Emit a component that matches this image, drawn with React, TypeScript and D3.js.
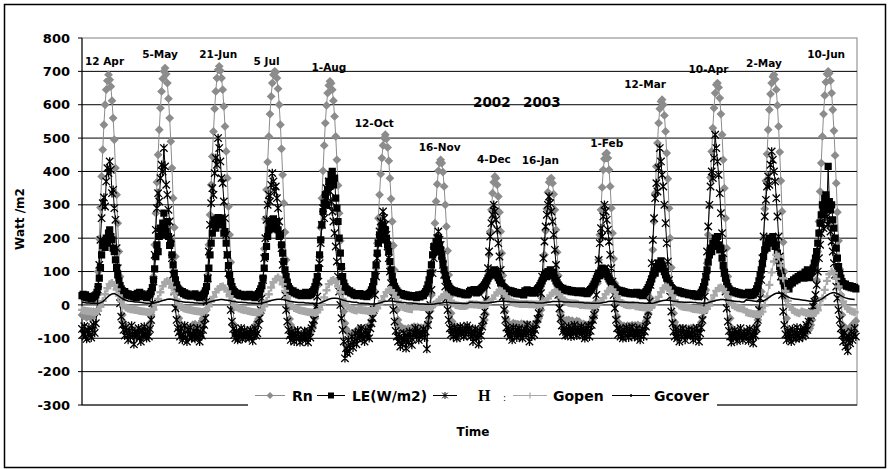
import React from 'react';
import * as d3 from 'd3';

// Day labels shown above each diurnal cycle (one day of half-hourly data each)
const dayLabels = ['12 Apr', '5-May', '21-Jun', '5 Jul', '1-Aug', '12-Oct', '16-Nov', '4-Dec', '16-Jan', '1-Feb', '12-Mar', '10-Apr', '2-May', '10-Jun'];
const yearLabels = ['2002', '2003'];
const yTicks = [800, 700, 600, 500, 400, 300, 200, 100, 0, -100, -200, -300];

// Net radiation Rn (W/m2), half-hourly, one row per day
const rn: number[][] = [
  [-30, -33, -29, -35, -38, -34, -31, -36, -40, -37, -33, -28, -22, 8, 100, 198, 292, 385, 465, 540, 600, 645, 672, 690, 675, 655, 612, 560, 495, 410, 330, 245, 160, 85, 20, -30, -52, -60, -66, -70, -74, -78, -72, -80, -84, -79, -76, -82],
  [-78, -82, -75, -85, -80, -88, -84, -79, -86, -81, -70, -55, -30, 0, 85, 180, 275, 368, 450, 525, 590, 640, 678, 700, 710, 692, 665, 618, 560, 490, 410, 320, 232, 145, 62, -5, -40, -55, -62, -66, -70, -68, -74, -72, -76, -80, -78, -83],
  [-60, -65, -58, -70, -72, -66, -62, -55, -48, -40, -30, -18, 10, 90, 180, 270, 360, 445, 520, 588, 640, 680, 705, 715, 702, 680, 645, 595, 535, 460, 380, 295, 210, 128, 52, -10, -60, -85, -95, -98, -92, -88, -85, -90, -86, -82, -84, -80],
  [-80, -84, -78, -82, -76, -70, -65, -58, -50, -42, -30, -15, 5, 80, 168, 258, 345, 428, 505, 572, 625, 665, 690, 700, 698, 680, 648, 600, 540, 468, 390, 305, 218, 135, 58, -8, -42, -60, -72, -78, -85, -90, -88, -94, -97, -92, -95, -90],
  [-85, -90, -82, -88, -92, -86, -80, -74, -66, -55, -40, -22, -5, 60, 145, 232, 320, 402, 478, 545, 598, 635, 658, 670, 664, 645, 612, 565, 505, 435, 358, 275, 192, 110, 38, -20, -55, -72, -80, -84, -88, -92, -86, -90, -84, -80, -78, -74],
  [-72, -76, -70, -74, -78, -72, -68, -74, -70, -66, -58, -45, -30, -10, 40, 110, 185, 260, 330, 392, 440, 478, 500, 510, 498, 472, 432, 380, 318, 250, 178, 105, 38, -15, -45, -60, -68, -72, -70, -75, -72, -78, -74, -70, -76, -72, -68, -74],
  [-65, -68, -70, -66, -72, -70, -68, -74, -70, -72, -66, -60, -52, -40, -18, 30, 100, 172, 245, 310, 362, 402, 426, 435, 425, 398, 355, 300, 235, 162, 90, 25, -25, -50, -62, -68, -70, -72, -70, -74, -72, -70, -75, -73, -71, -74, -72, -70],
  [-74, -76, -75, -77, -74, -76, -78, -75, -72, -74, -70, -64, -56, -45, -28, 15, 80, 150, 220, 285, 335, 368, 385, 380, 360, 325, 278, 220, 155, 88, 25, -20, -42, -52, -58, -60, -62, -58, -55, -60, -57, -62, -58, -64, -60, -56, -62, -58],
  [-60, -62, -58, -64, -60, -63, -66, -62, -60, -58, -54, -48, -40, -30, -15, 20, 82, 150, 222, 288, 338, 368, 378, 380, 365, 332, 285, 225, 158, 88, 22, -22, -40, -48, -52, -50, -46, -50, -45, -48, -52, -47, -50, -55, -52, -48, -54, -50],
  [-55, -58, -60, -57, -62, -60, -64, -61, -58, -55, -50, -42, -32, -18, 10, 65, 135, 210, 285, 352, 405, 438, 452, 455, 440, 405, 355, 290, 215, 138, 65, 5, -35, -52, -60, -64, -62, -66, -63, -68, -65, -62, -67, -64, -66, -61, -65, -62],
  [-62, -65, -60, -66, -64, -68, -63, -60, -55, -48, -38, -25, -10, 20, 85, 165, 250, 335, 415, 485, 545, 588, 610, 615, 600, 568, 520, 455, 378, 290, 200, 112, 35, -25, -52, -65, -70, -72, -74, -70, -76, -72, -75, -78, -73, -76, -71, -74],
  [-70, -74, -68, -72, -76, -70, -73, -69, -62, -52, -38, -20, 0, 45, 125, 210, 298, 382, 460, 530, 590, 635, 660, 665, 652, 620, 572, 510, 435, 350, 260, 170, 85, 12, -40, -68, -80, -85, -88, -92, -86, -95, -90, -98, -93, -88, -96, -91],
  [-80, -84, -78, -86, -82, -88, -85, -80, -72, -60, -45, -25, -5, 40, 115, 200, 288, 372, 452, 525, 585, 632, 665, 684, 690, 676, 645, 598, 535, 458, 372, 280, 188, 100, 22, -40, -75, -92, -98, -102, -96, -100, -95, -98, -92, -96, -90, -94],
  [-90, -86, -92, -88, -84, -80, -76, -70, -60, -45, -28, -8, 15, 75, 160, 250, 340, 425, 505, 572, 628, 668, 692, 700, 694, 672, 635, 585, 522, 448, 365, 278, 192, 108, 30, -30, -62, -78, -85, -80, -76, -72, -68, -64, -60, -56, -52, -48],
];

// Latent heat flux LE (W/m2), half-hourly
const le: number[][] = [
  [28, 32, 25, 30, 22, 26, 20, 24, 18, 21, 25, 27, 30, 38, 55, 80, 112, 150, 178, 190, 172, 200, 185, 215, 225, 205, 195, 170, 160, 135, 112, 90, 72, 58, 48, 42, 38, 40, 35, 30, 33, 28, 31, 26, 29, 24, 27, 22],
  [35, 30, 38, 28, 33, 25, 30, 27, 22, 26, 30, 34, 40, 52, 75, 108, 145, 180, 160, 205, 230, 210, 245, 275, 240, 220, 250, 205, 178, 185, 150, 120, 95, 75, 60, 50, 45, 42, 38, 40, 34, 36, 30, 33, 28, 30, 26, 28],
  [30, 26, 33, 28, 24, 29, 22, 27, 25, 30, 35, 42, 55, 78, 110, 150, 185, 215, 240, 255, 230, 258, 262, 250, 255, 260, 240, 215, 220, 185, 150, 118, 90, 70, 55, 45, 40, 36, 32, 35, 30, 28, 32, 27, 30, 25, 28, 24],
  [28, 32, 26, 30, 24, 28, 22, 26, 30, 34, 40, 48, 58, 80, 110, 145, 175, 205, 225, 240, 250, 228, 258, 245, 235, 250, 225, 205, 210, 180, 155, 130, 105, 85, 68, 55, 48, 44, 40, 42, 36, 38, 33, 35, 30, 32, 28, 30],
  [35, 30, 38, 33, 28, 36, 30, 34, 40, 45, 55, 68, 85, 110, 150, 195, 240, 280, 305, 330, 300, 345, 370, 355, 390, 400, 360, 380, 320, 290, 250, 200, 155, 115, 85, 65, 55, 48, 45, 40, 42, 36, 38, 34, 30, 33, 28, 31],
  [30, 34, 28, 32, 26, 30, 28, 25, 30, 34, 38, 45, 55, 70, 90, 120, 155, 185, 210, 195, 230, 240, 215, 225, 200, 180, 160, 130, 105, 85, 68, 56, 48, 42, 38, 35, 32, 34, 30, 32, 28, 30, 26, 29, 25, 28, 24, 27],
  [25, 28, 22, 26, 30, 24, 27, 32, 28, 35, 40, 48, 60, 75, 95, 120, 150, 175, 160, 190, 175, 200, 180, 165, 145, 125, 105, 88, 75, 64, 56, 50, 46, 44, 40, 42, 38, 40, 36, 38, 34, 36, 33, 35, 31, 34, 30, 33],
  [40, 44, 38, 42, 46, 40, 36, 42, 38, 44, 48, 52, 56, 60, 66, 72, 80, 86, 92, 98, 90, 105, 95, 100, 88, 82, 74, 66, 60, 55, 52, 48, 45, 42, 44, 40, 42, 38, 40, 36, 38, 34, 37, 33, 36, 32, 34, 30],
  [42, 38, 45, 40, 36, 43, 39, 35, 41, 37, 44, 48, 52, 58, 64, 72, 80, 88, 95, 85, 100, 92, 105, 95, 88, 98, 80, 72, 66, 60, 56, 52, 48, 50, 45, 47, 43, 46, 42, 44, 40, 43, 39, 42, 38, 41, 37, 40],
  [38, 42, 36, 40, 35, 39, 34, 38, 42, 46, 50, 56, 62, 70, 78, 86, 95, 88, 102, 110, 96, 108, 100, 92, 85, 78, 72, 66, 60, 56, 52, 48, 45, 42, 44, 40, 42, 38, 40, 36, 38, 35, 37, 34, 36, 33, 35, 32],
  [35, 38, 32, 36, 30, 34, 28, 32, 36, 40, 46, 52, 60, 68, 78, 90, 102, 95, 115, 108, 125, 118, 132, 120, 110, 100, 90, 80, 72, 64, 58, 52, 48, 45, 42, 44, 40, 42, 38, 40, 36, 38, 34, 36, 33, 35, 31, 33],
  [30, 34, 28, 32, 26, 30, 25, 29, 33, 38, 45, 55, 68, 85, 105, 128, 150, 170, 160, 185, 175, 200, 190, 205, 180, 165, 170, 140, 118, 98, 80, 66, 55, 48, 44, 40, 42, 38, 40, 36, 38, 34, 36, 32, 35, 31, 33, 30],
  [35, 30, 38, 32, 28, 34, 30, 36, 40, 48, 58, 72, 88, 105, 125, 145, 165, 180, 170, 190, 200, 185, 195, 205, 190, 175, 180, 155, 135, 115, 98, 84, 72, 64, 58, 54, 50, 48, 62, 70, 66, 75, 72, 80, 76, 85, 82, 88],
  [85, 92, 80, 98, 88, 105, 90, 82, 95, 100, 110, 125, 140, 160, 185, 215, 245, 270, 300, 285, 320, 330, 300, 415, 310, 285, 300, 255, 230, 200, 170, 140, 115, 95, 80, 70, 64, 60, 62, 56, 58, 54, 57, 52, 55, 50, 53, 48],
];

// Sensible heat flux H (W/m2), half-hourly
const hf: number[][] = [
  [-72, -88, -64, -95, -102, -80, -68, -90, -98, -75, -60, -84, -55, -20, 45, 120, 195, 260, 305, 322, 295, 370, 410, 395, 430, 405, 335, 345, 290, 255, 170, 110, 55, 5, -35, -60, -75, -92, -68, -85, -105, -78, -96, -62, -88, -118, -80, -93],
  [-85, -70, -98, -110, -76, -92, -65, -88, -100, -80, -95, -72, -45, 5, 70, 150, 225, 290, 335, 310, 380, 420, 400, 470, 415, 360, 330, 285, 250, 200, 140, 90, 40, -10, -45, -70, -82, -95, -70, -105, -88, -62, -98, -110, -75, -90, -68, -100],
  [-95, -78, -102, -88, -70, -96, -110, -84, -92, -75, -60, -40, 10, 80, 160, 240, 305, 350, 330, 395, 440, 420, 500, 470, 430, 380, 365, 310, 260, 210, 150, 95, 40, -15, -50, -72, -90, -100, -78, -105, -85, -96, -70, -102, -88, -76, -98, -84],
  [-88, -100, -75, -95, -108, -82, -70, -92, -85, -60, -40, -15, 20, 75, 140, 200, 255, 300, 330, 310, 360, 395, 370, 340, 355, 320, 290, 250, 215, 170, 120, 75, 30, -15, -50, -75, -92, -105, -80, -98, -110, -85, -102, -76, -95, -112, -88, -100],
  [-95, -78, -105, -88, -112, -80, -98, -70, -60, -45, -25, -5, 25, 70, 125, 185, 240, 290, 260, 320, 350, 300, 370, 340, 310, 280, 250, 215, 175, 130, 85, 40, 0, -40, -75, -110, -160, -130, -145, -105, -138, -120, -95, -128, -110, -85, -118, -100],
  [-80, -95, -70, -102, -88, -110, -76, -92, -84, -100, -70, -55, -40, -15, 30, 85, 140, 185, 220, 250, 235, 280, 260, 240, 210, 175, 140, 100, 65, 25, -15, -50, -78, -95, -110, -88, -125, -100, -118, -85, -105, -130, -92, -112, -80, -98, -120, -90],
  [-85, -70, -95, -78, -105, -82, -88, -90, -72, -98, -80, -132, -60, -30, 0, 45, 95, 140, 175, 160, 200, 220, 195, 180, 150, 120, 90, 55, 20, -15, -45, -70, -88, -75, -95, -68, -82, -100, -72, -90, -65, -85, -78, -95, -70, -88, -62, -80],
  [-70, -95, -80, -110, -88, -72, -100, -85, -118, -78, -92, -65, -45, -20, 15, 60, 110, 160, 205, 245, 270, 300, 280, 255, 225, 185, 145, 105, 65, 25, -15, -45, -68, -85, -72, -95, -80, -105, -68, -90, -75, -98, -82, -70, -92, -78, -100, -85],
  [-72, -90, -60, -85, -110, -78, -95, -68, -88, -75, -58, -42, -25, 0, 35, 85, 140, 190, 235, 270, 300, 325, 305, 280, 250, 210, 165, 120, 75, 30, -10, -40, -62, -80, -70, -92, -75, -88, -65, -82, -95, -70, -86, -60, -78, -92, -68, -84],
  [-80, -65, -92, -75, -100, -70, -88, -62, -95, -78, -60, -45, -30, -5, 30, 80, 135, 185, 230, 205, 265, 300, 280, 255, 225, 190, 150, 110, 70, 30, -10, -45, -70, -88, -72, -95, -80, -100, -75, -92, -68, -85, -98, -72, -90, -66, -84, -95],
  [-85, -70, -98, -78, -105, -88, -72, -95, -80, -65, -45, -20, 10, 60, 125, 195, 260, 320, 365, 340, 410, 470, 430, 390, 355, 300, 245, 185, 130, 75, 25, -20, -55, -80, -95, -72, -100, -85, -110, -78, -96, -70, -88, -105, -82, -94, -75, -90],
  [-90, -75, -105, -82, -98, -70, -92, -110, -85, -68, -45, -15, 25, 85, 160, 235, 300, 355, 400, 380, 440, 510, 470, 430, 390, 335, 275, 215, 155, 95, 40, -10, -50, -78, -95, -112, -85, -100, -76, -95, -108, -82, -98, -70, -90, -105, -80, -94],
  [-95, -80, -108, -72, -100, -88, -115, -78, -92, -70, -45, -15, 20, 75, 140, 205, 265, 315, 355, 385, 360, 420, 460, 435, 400, 370, 320, 265, 205, 145, 85, 30, -20, -60, -88, -105, -78, -98, -85, -110, -72, -95, -82, -102, -68, -90, -100, -76],
  [-80, -95, -70, -88, -60, -75, -50, -40, -30, -20, -5, 10, 30, 60, 100, 140, 180, 215, 245, 230, 270, 290, 265, 240, 255, 220, 190, 160, 125, 90, 55, 20, -15, -45, -70, -90, -110, -85, -125, -100, -138, -95, -115, -80, -105, -90, -70, -95],
];

// Soil heat flux, open ground (W/m2), hourly
const gOpen: number[][] = [
  [-15, -17, -18, -19, -20, -21, -21, -18, -6, 12, 32, 50, 62, 66, 60, 46, 28, 10, -2, -8, -11, -13, -14, -15],
  [-16, -18, -19, -20, -21, -22, -20, -14, 0, 18, 38, 56, 68, 72, 66, 52, 34, 16, 2, -6, -10, -12, -14, -15],
  [-17, -18, -19, -20, -21, -20, -15, -4, 10, 24, 38, 48, 54, 55, 50, 40, 26, 12, 0, -7, -11, -13, -15, -16],
  [-18, -20, -21, -22, -23, -22, -16, -4, 12, 32, 52, 68, 78, 82, 76, 62, 42, 22, 6, -4, -9, -12, -15, -17],
  [-18, -20, -21, -22, -23, -24, -22, -14, 2, 22, 44, 62, 72, 75, 70, 56, 38, 18, 4, -5, -10, -13, -15, -17],
  [-14, -15, -16, -17, -18, -18, -18, -17, -10, 0, 12, 26, 38, 45, 44, 36, 24, 10, 0, -6, -9, -11, -12, -13],
  [-4, -5, -5, -6, -6, -7, -7, -6, -3, 2, 8, 16, 24, 30, 28, 22, 12, 4, 0, -2, -3, -3, -3, -2],
  [2, 2, 1, 1, 0, 0, 0, 1, 4, 10, 18, 28, 37, 43, 41, 34, 25, 16, 10, 7, 5, 4, 3, 3],
  [3, 3, 2, 2, 1, 1, 1, 2, 5, 11, 19, 28, 36, 40, 38, 31, 22, 14, 9, 6, 5, 4, 4, 3],
  [0, 0, -1, -1, -2, -2, -2, -1, 3, 10, 20, 32, 42, 48, 46, 38, 26, 14, 6, 2, 0, -1, -1, 0],
  [-4, -5, -6, -7, -8, -8, -8, -6, 0, 10, 24, 38, 50, 55, 52, 42, 28, 14, 4, -2, -5, -6, -7, -8],
  [-10, -12, -13, -14, -15, -16, -16, -12, -2, 12, 28, 42, 50, 52, 48, 38, 24, 10, 0, -5, -8, -10, -11, -12],
  [-22, -24, -26, -27, -28, -29, -28, -20, -2, 25, 60, 98, 130, 150, 145, 118, 80, 42, 12, -6, -15, -20, -23, -25],
  [-20, -22, -24, -25, -26, -26, -24, -16, 0, 20, 45, 72, 92, 100, 95, 78, 55, 30, 10, -4, -12, -17, -20, -22],
];

// Soil heat flux under cover (W/m2), hourly
const gCover: number[][] = [
  [8, 7, 6, 6, 5, 5, 4, 4, 6, 10, 16, 23, 29, 33, 34, 31, 26, 21, 17, 14, 12, 11, 10, 9],
  [9, 8, 7, 6, 5, 5, 4, 5, 7, 9, 11, 13, 15, 17, 18, 17, 15, 13, 11, 10, 9, 8, 8, 7],
  [7, 6, 6, 5, 5, 5, 6, 8, 10, 12, 14, 15, 16, 16, 15, 14, 13, 11, 10, 9, 8, 8, 7, 7],
  [6, 6, 5, 5, 4, 4, 5, 7, 9, 11, 13, 15, 16, 17, 17, 16, 15, 13, 11, 10, 9, 8, 7, 7],
  [7, 6, 6, 5, 5, 4, 4, 5, 8, 11, 14, 17, 19, 20, 20, 19, 17, 15, 13, 11, 10, 9, 8, 8],
  [6, 5, 5, 4, 4, 3, 3, 3, 4, 6, 8, 10, 11, 12, 12, 11, 10, 9, 8, 7, 7, 6, 6, 6],
  [4, 4, 3, 3, 3, 2, 2, 2, 2, 3, 4, 5, 6, 7, 7, 7, 6, 6, 5, 5, 5, 4, 4, 4],
  [8, 8, 7, 7, 7, 6, 6, 6, 6, 7, 8, 9, 10, 11, 11, 11, 10, 10, 9, 9, 9, 8, 8, 8],
  [8, 8, 7, 7, 7, 6, 6, 6, 6, 7, 8, 9, 10, 10, 10, 10, 10, 9, 9, 9, 8, 8, 8, 8],
  [7, 7, 6, 6, 6, 5, 5, 5, 5, 6, 7, 8, 10, 11, 11, 11, 10, 9, 9, 8, 8, 7, 7, 7],
  [7, 7, 6, 6, 5, 5, 5, 5, 6, 8, 10, 12, 13, 14, 14, 13, 12, 11, 10, 9, 9, 8, 8, 8],
  [8, 7, 7, 6, 6, 5, 5, 6, 8, 10, 12, 14, 15, 16, 16, 15, 14, 13, 12, 11, 10, 10, 9, 9],
  [15, 14, 13, 12, 11, 10, 10, 11, 14, 18, 23, 28, 32, 35, 36, 35, 32, 28, 24, 21, 19, 18, 17, 16],
  [15, 14, 13, 12, 11, 11, 11, 12, 15, 19, 24, 29, 33, 36, 37, 35, 32, 28, 24, 21, 19, 18, 17, 16],
];

// Small per-label nudges so day labels sit clear of the peaks
const labelDx = [-4, -5, -1, -8, -1, -11, -1, -1, -11, 0, -17, -9, -10, -2];
const labelDy = [-10, -10, -8, -6, -10, -8, -9, -13, -14, -6, -12, -10, -8, -13];

const FONT = '"DejaVu Sans", Verdana, sans-serif';
const RN_COL = '#8c8c8c';
const GO_COL = '#a8a8a8';

type Pt = { t: number; v: number };
const toPoints = (days: number[][]): Pt[] =>
  days.flatMap((vals, d) => vals.map((v, k) => ({ t: d + k / vals.length, v })));

const margin = { left: 82, right: 857, top: 38, bottom: 405 };
const x = d3.scaleLinear().domain([0, dayLabels.length]).range([margin.left, margin.right]);
const y = d3.scaleLinear().domain([-300, 800]).range([margin.bottom, margin.top]);

const lineGen = d3.line<Pt>().x((p) => x(p.t)).y((p) => y(p.v));

const diamond = (cx: number, cy: number, r = 4.4) => `M${cx},${cy - r}L${cx + r},${cy}L${cx},${cy + r}L${cx - r},${cy}Z`;
const square = (cx: number, cy: number, r = 3.6) => `M${cx - r},${cy - r}h${2 * r}v${2 * r}h${-2 * r}Z`;
const star = (cx: number, cy: number, r = 3.7) =>
  `M${cx - r},${cy - r}L${cx + r},${cy + r}M${cx - r},${cy + r}L${cx + r},${cy - r}M${cx},${cy - r - 0.6}L${cx},${cy + r + 0.6}`;
const plus = (cx: number, cy: number, r = 4) => `M${cx - r},${cy}H${cx + r}M${cx},${cy - r}V${cy + r}`;

const markerPath = (pts: Pt[], shape: (cx: number, cy: number) => string) =>
  pts.map((p) => shape(x(p.t), y(p.v))).join('');

export default function App() {
  const rnPts = toPoints(rn);
  const lePts = toPoints(le);
  const hPts = toPoints(hf);
  const goPts = toPoints(gOpen);
  const gcPts = toPoints(gCover);

  const legendY = 395.5;

  return (
    <svg width={889} height={469} style={{ position: 'absolute', left: 0, top: 0, background: '#fff' }}>
      <rect x={0} y={0} width={889} height={469} fill="#fff" />
      <rect x={4.5} y={4.5} width={881} height={463} fill="none" stroke="#000" strokeWidth={1.5} />

      {/* plot frame and gridlines */}
      <rect x={margin.left} y={margin.top} width={margin.right - margin.left} height={margin.bottom - margin.top} fill="none" stroke="#808080" strokeWidth={1} />
      {yTicks.filter((t) => t !== 800 && t !== -300).map((t) => (
        <line key={t} x1={margin.left} x2={margin.right} y1={y(t)} y2={y(t)} stroke="#000" strokeWidth={1} />
      ))}
      <line x1={margin.left} x2={margin.right} y1={y(-300)} y2={y(-300)} stroke="#000" strokeWidth={1} />
      <line x1={margin.left} x2={margin.left} y1={margin.top} y2={margin.bottom} stroke="#000" strokeWidth={1} />
      {yTicks.map((t) => (
        <g key={t}>
          <line x1={margin.left - 4} x2={margin.left} y1={y(t)} y2={y(t)} stroke="#000" />
          <text x={70} y={y(t)} dy="0.36em" textAnchor="end" fontFamily={FONT} fontWeight="bold" fontSize={13}>
            {t}
          </text>
        </g>
      ))}

      {/* series, drawn in legend order */}
      <path d={lineGen(rnPts) ?? ''} fill="none" stroke={RN_COL} strokeWidth={1} />
      <path d={markerPath(rnPts, diamond)} fill={RN_COL} stroke="none" />

      <path d={lineGen(lePts) ?? ''} fill="none" stroke="#000" strokeWidth={1} />
      <path d={markerPath(lePts, square)} fill="#000" stroke="none" />

      <path d={lineGen(hPts) ?? ''} fill="none" stroke="#000" strokeWidth={1} />
      <path d={markerPath(hPts, star)} fill="none" stroke="#000" strokeWidth={1.3} />

      <path d={lineGen(goPts) ?? ''} fill="none" stroke={GO_COL} strokeWidth={1} />
      <path d={markerPath(goPts, plus)} fill="none" stroke={GO_COL} strokeWidth={2.4} />

      <path d={lineGen(gcPts) ?? ''} fill="none" stroke="#000" strokeWidth={1.5} />

      {/* day labels */}
      {dayLabels.map((lab, d) => {
        const vals = rn[d];
        const peak = d3.max(vals) ?? 0;
        const k = vals.indexOf(peak);
        return (
          <text key={lab} x={x(d + k / vals.length) + labelDx[d]} y={y(peak) + labelDy[d]} textAnchor="middle" fontFamily={FONT} fontWeight="bold" fontSize={10.5}>
            {lab}
          </text>
        );
      })}
      <text x={x(8) - 33} y={y(593)} textAnchor="middle" fontFamily={FONT} fontWeight="bold" fontSize={13.5}>{yearLabels[0]}</text>
      <text x={x(8) + 17} y={y(593)} textAnchor="middle" fontFamily={FONT} fontWeight="bold" fontSize={13.5}>{yearLabels[1]}</text>

      {/* axis titles */}
      <text transform="translate(24,219) rotate(-90)" textAnchor="middle" fontFamily={FONT} fontWeight="bold" fontSize={12}>Watt /m2</text>
      <text x={473} y={436} textAnchor="middle" fontFamily={FONT} fontWeight="bold" fontSize={12}>Time</text>

      {/* legend */}
      <rect x={248} y={385} width={469} height={27} fill="#fff" />
      <g fontFamily={FONT} fontWeight="bold" fontSize={14}>
        <line x1={255} x2={285} y1={legendY} y2={legendY} stroke={RN_COL} />
        <path d={diamond(270, legendY, 3.5)} fill={RN_COL} />
        <text x={292} y={401}>Rn</text>

        <line x1={317} x2={345} y1={legendY} y2={legendY} stroke="#000" />
        <path d={square(331, legendY, 3)} fill="#000" />
        <text x={352} y={401} textLength={75} lengthAdjust="spacingAndGlyphs">LE(W/m2)</text>

        <line x1={433} x2={457} y1={legendY} y2={legendY} stroke="#000" />
        <path d={star(445, legendY, 2.8)} stroke="#000" fill="none" />
        <text x={478} y={401} fontFamily='"Liberation Serif", "Times New Roman", serif' fontSize={16}>H</text>
        <text x={503} y={401} fontSize={9} fontWeight="normal">:</text>

        <line x1={513} x2={547} y1={legendY} y2={legendY} stroke={GO_COL} />
        <path d={plus(530, legendY, 3)} stroke={GO_COL} strokeWidth={1.2} />
        <text x={553} y={401}>Gopen</text>

        <line x1={612} x2={650} y1={legendY} y2={legendY} stroke="#000" />
        <line x1={630} x2={632} y1={legendY} y2={legendY} stroke="#000" strokeWidth={2.5} />
        <text x={654} y={401}>Gcover</text>
      </g>
    </svg>
  );
}
